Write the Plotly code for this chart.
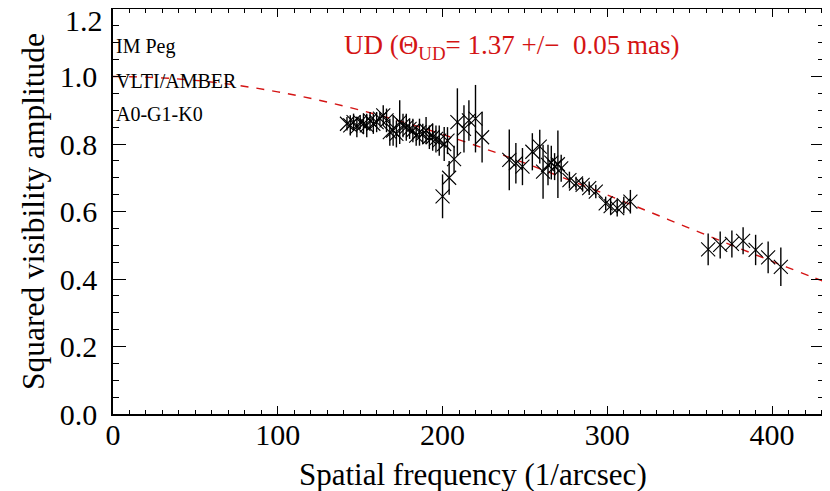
import plotly.graph_objects as go

# Observed squared visibilities (IM Peg, VLTI/AMBER, A0-G1-K0)
freq = [142, 144, 146, 148, 150, 152, 154, 156, 158, 160, 162, 164, 166, 168, 170,
        172, 174, 176, 178, 180, 182, 184, 186, 188, 190, 192, 194, 196, 198, 201, 203,
        200, 204, 207, 209, 213, 216, 220, 224,
        240.5, 244.5, 248.5, 254.5, 259, 261, 264, 266, 268, 270, 272, 277, 281, 285,
        289, 293, 299, 302, 306, 310, 314,
        361.2, 368.5, 375.6, 382.4, 390, 397.6, 405.3]
vis2 = [0.86, 0.855, 0.865, 0.85, 0.865, 0.86, 0.855, 0.87, 0.86, 0.865, 0.875, 0.885, 0.87, 0.835, 0.84,
        0.83, 0.865, 0.855, 0.85, 0.845, 0.84, 0.825, 0.835, 0.83, 0.84, 0.82, 0.82, 0.815, 0.81, 0.80, 0.81,
        0.645, 0.70, 0.755, 0.865, 0.845, 0.87, 0.875, 0.82,
        0.753, 0.743, 0.733, 0.777, 0.792, 0.718, 0.738, 0.745, 0.733, 0.74, 0.728, 0.693, 0.683, 0.679,
        0.669, 0.659, 0.624, 0.616, 0.61, 0.619, 0.629,
        0.488, 0.501, 0.504, 0.513, 0.486, 0.464, 0.436]
vis2_err = [0.02, 0.03, 0.025, 0.03, 0.02, 0.03, 0.035, 0.025, 0.03, 0.03, 0.02, 0.03, 0.035, 0.04, 0.045,
            0.04, 0.065, 0.035, 0.04, 0.03, 0.035, 0.03, 0.04, 0.03, 0.04, 0.035, 0.04, 0.04, 0.045, 0.05, 0.04,
            0.065, 0.05, 0.04, 0.10, 0.07, 0.06, 0.10, 0.075,
            0.09, 0.06, 0.055, 0.055, 0.05, 0.08, 0.06, 0.05, 0.04, 0.10, 0.04, 0.025, 0.02, 0.02,
            0.02, 0.02, 0.02, 0.025, 0.025, 0.025, 0.035,
            0.047, 0.04, 0.04, 0.04, 0.045, 0.047, 0.057]

# Uniform-disk model curve
model_freq = [0, 25, 50, 75, 100, 125, 150, 175, 200, 225, 250, 275, 300, 325, 350, 375, 400, 425, 432]
model_vis2 = [1.0, 0.9971, 0.9885, 0.9742, 0.9546, 0.9298, 0.9002, 0.8663, 0.8285, 0.7873, 0.7432,
              0.6969, 0.6490, 0.6000, 0.5505, 0.5011, 0.4523, 0.4047, 0.3917]

x_ticks = [0, 100, 200, 300, 400]
y_ticks = [0.0, 0.2, 0.4, 0.6, 0.8, 1.0]
y_ticktext = ["0.0", "0.2", "0.4", "0.6", "0.8", "1.0"]
y_top_label = "1.2"
x_title = "Spatial frequency (1/arcsec)"
y_title = "Squared visibility amplitude"

info_lines = ["IM Peg", "VLTI/AMBER", "A0-G1-K0"]
model_label = "UD (Θ<sub>UD</sub>= 1.37 +/−  0.05 mas)"

SERIF = "Liberation Serif"
RED = "#d41414"

fig = go.Figure()
fig.add_trace(go.Scatter(
    x=model_freq, y=model_vis2, mode="lines",
    line=dict(color=RED, width=1.4, dash="8px,8px", shape="spline"),
    hoverinfo="skip", showlegend=False))
fig.add_trace(go.Scatter(
    x=freq, y=vis2, mode="markers",
    marker=dict(symbol="x-thin", size=14, color="black", line=dict(color="black", width=1.1)),
    error_y=dict(type="data", array=vis2_err, visible=True, color="black", thickness=1.4, width=0),
    showlegend=False))

axis_common = dict(
    showgrid=False, zeroline=False, showline=True, linecolor="black", linewidth=1.5,
    mirror="ticks", ticks="inside", tickcolor="black", tickwidth=1.2, automargin=False,
    tickfont=dict(family=SERIF, size=30, color="black"))

fig.update_xaxes(
    range=[0, 431.5], tickvals=x_ticks, ticklen=8,
    minor=dict(dtick=10, tick0=0, ticks="inside", ticklen=4, tickcolor="black", tickwidth=1.2),
    ticklabelstandoff=-7,
    **axis_common)
fig.update_yaxes(
    range=[0, 1.2], tickvals=y_ticks, ticktext=y_ticktext, ticklen=13,
    minor=dict(dtick=0.05, tick0=0, ticks="inside", ticklen=6, tickcolor="black", tickwidth=1.2),
    ticklabelstandoff=8,
    title=dict(text=y_title, font=dict(family=SERIF, size=31.5, color="black"), standoff=6),
    **axis_common)

annotations = [
    dict(x=0, y=1.2, xref="paper", yref="y", text=y_top_label, showarrow=False,
         xanchor="right", yanchor="middle", xshift=-8, yshift=-11,
         font=dict(family=SERIF, size=30, color="black")),
    dict(x=0.507, y=0, xref="paper", yref="paper", text=x_title, showarrow=False,
         xanchor="center", yanchor="middle", yshift=-60,
         font=dict(family=SERIF, size=31, color="black")),
]
for i, t in enumerate(info_lines):
    annotations.append(dict(x=0.002, y=1.088 - i * 0.1, xref="paper", yref="y", text=t, showarrow=False,
                            xanchor="left", yanchor="middle",
                            font=dict(family=SERIF, size=20, color="black")))
annotations.append(dict(x=0.561, y=1.088, xref="paper", yref="y", text=model_label, showarrow=False,
                        xanchor="center", yanchor="middle",
                        font=dict(family=SERIF, size=27, color=RED)))

# The page adds an 8 px body margin, so the figure is 8 px smaller than the window
fig.update_layout(
    width=822, height=483,
    margin=dict(l=105, r=6, t=1, b=77),
    paper_bgcolor="white", plot_bgcolor="white",
    annotations=annotations)

fig.write_html("out.html")
